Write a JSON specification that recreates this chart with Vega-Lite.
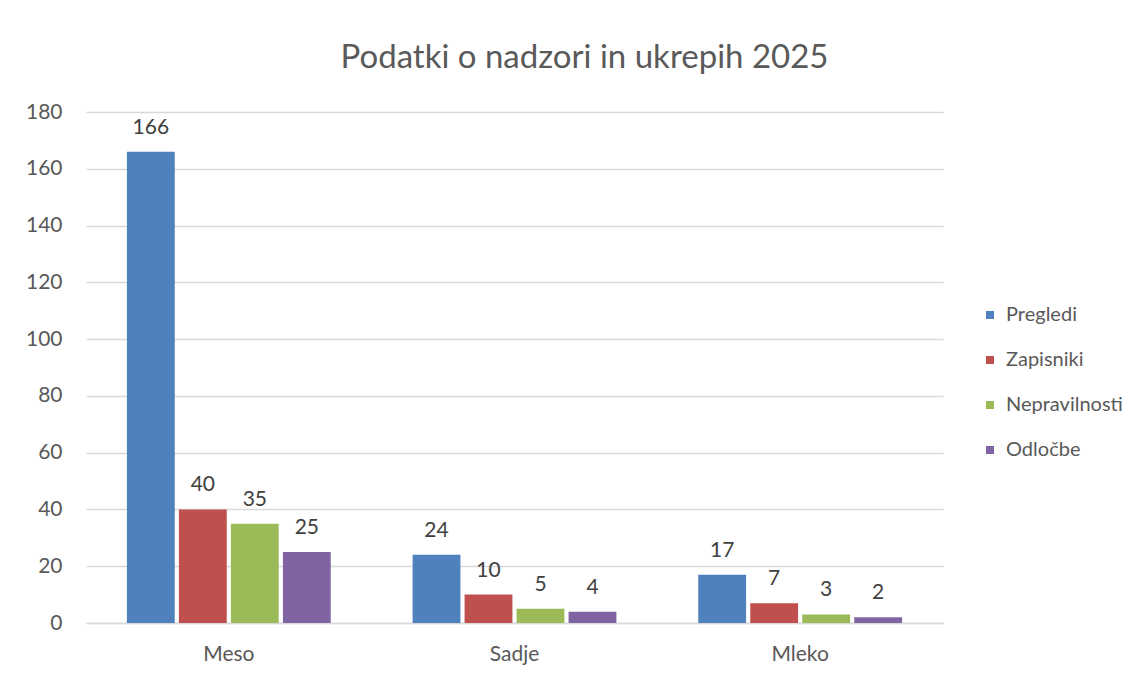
{
  "$schema": "https://vega.github.io/schema/vega-lite/v6.json",
  "width": 857,
  "height": 511,
  "autosize": {"type": "none"},
  "padding": {"left": 86, "top": 112, "right": 203, "bottom": 55},
  "background": "white",
  "title": {
    "text": "Podatki o nadzori in ukrepih 2025",
    "font": "Lato",
    "fontSize": 33,
    "fontWeight": "normal",
    "color": "#595959",
    "anchor": "middle",
    "frame": "group",
    "dx": 70,
    "offset": 26
  },
  "config": {
    "view": {"stroke": null},
    "font": "Lato"
  },
  "data": {
    "values": [
      {"kategorija": "Meso", "serija": "Pregledi", "vrednost": 166},
      {"kategorija": "Meso", "serija": "Zapisniki", "vrednost": 40},
      {"kategorija": "Meso", "serija": "Nepravilnosti", "vrednost": 35},
      {"kategorija": "Meso", "serija": "Odločbe", "vrednost": 25},
      {"kategorija": "Sadje", "serija": "Pregledi", "vrednost": 24},
      {"kategorija": "Sadje", "serija": "Zapisniki", "vrednost": 10},
      {"kategorija": "Sadje", "serija": "Nepravilnosti", "vrednost": 5},
      {"kategorija": "Sadje", "serija": "Odločbe", "vrednost": 4},
      {"kategorija": "Mleko", "serija": "Pregledi", "vrednost": 17},
      {"kategorija": "Mleko", "serija": "Zapisniki", "vrednost": 7},
      {"kategorija": "Mleko", "serija": "Nepravilnosti", "vrednost": 3},
      {"kategorija": "Mleko", "serija": "Odločbe", "vrednost": 2}
    ]
  },
  "encoding": {
    "x": {
      "field": "kategorija",
      "type": "nominal",
      "sort": ["Meso", "Sadje", "Mleko"],
      "scale": {"paddingInner": 0, "paddingOuter": 0},
      "axis": {
        "title": null,
        "labelAngle": 0,
        "labelPadding": 20,
        "labelFont": "Lato",
        "labelFontSize": 21,
        "labelColor": "#595959",
        "domain": true,
        "domainColor": "#d9d9d9",
        "domainWidth": 1.5,
        "ticks": false
      }
    },
    "xOffset": {
      "field": "serija",
      "type": "nominal",
      "sort": ["Pregledi", "Zapisniki", "Nepravilnosti", "Odločbe"],
      "scale": {"paddingInner": 0.08, "paddingOuter": 0.787}
    },
    "y": {
      "field": "vrednost",
      "type": "quantitative",
      "scale": {"domain": [0, 180], "nice": false},
      "axis": {
        "title": null,
        "values": [0, 20, 40, 60, 80, 100, 120, 140, 160, 180],
        "labelPadding": 24,
        "labelFont": "Lato",
        "labelFontSize": 21,
        "labelColor": "#595959",
        "domain": false,
        "ticks": false,
        "grid": true,
        "gridColor": "#d9d9d9",
        "gridWidth": 1.5
      }
    }
  },
  "layer": [
    {
      "mark": {"type": "bar"},
      "encoding": {
        "color": {
          "field": "serija",
          "type": "nominal",
          "sort": ["Pregledi", "Zapisniki", "Nepravilnosti", "Odločbe"],
          "scale": {
            "domain": ["Pregledi", "Zapisniki", "Nepravilnosti", "Odločbe"],
            "range": ["#4F81BD", "#C0504D", "#9BBB59", "#8064A2"]
          },
          "legend": {
            "title": null,
            "orient": "none",
            "legendX": 894,
            "legendY": 193,
            "padding": 0,
            "symbolType": "square",
            "symbolSize": 64,
            "symbolStrokeWidth": 0,
            "labelFont": "Lato",
            "labelFontSize": 20,
            "labelColor": "#595959",
            "labelOffset": 6,
            "rowPadding": 25
          }
        }
      }
    },
    {
      "mark": {
        "type": "text",
        "baseline": "alphabetic",
        "dy": -18,
        "font": "Lato",
        "fontSize": 21,
        "color": "#404040"
      },
      "encoding": {
        "text": {"field": "vrednost", "type": "quantitative"}
      }
    }
  ]
}
